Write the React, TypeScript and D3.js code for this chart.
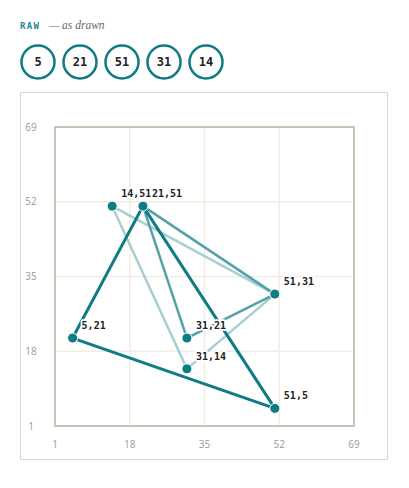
import React from "react";
import * as d3 from "d3";

// raw sequence shown as chips
const rawValues = [5, 21, 51, 31, 14];

// triangles, drawn back to front
const lightTri: [number, number][] = [[14, 51], [31, 14], [51, 31]];
const midTri: [number, number][] = [[21, 51], [31, 21], [51, 31]];
const darkTri: [number, number][] = [[5, 21], [21, 51], [51, 5]];

const points: [number, number][] = [
  [5, 21], [14, 51], [21, 51], [31, 21], [31, 14], [51, 31], [51, 5],
];

const ticks = [1, 18, 35, 52, 69];

const W = 409;
const H = 488;
const panel = { x: 20, y: 92, w: 368, h: 368 };
const plot = { left: 55, top: 127, right: 354, bottom: 426 };

const TEAL = "#0f7b84";
const MONO = "'DejaVu Sans Mono', monospace";

export default function App() {
  const x = d3.scaleLinear().domain([1, 69]).range([plot.left, plot.right]);
  const y = d3.scaleLinear().domain([1, 69]).range([plot.bottom, plot.top]);

  const line = d3
    .line<[number, number]>()
    .x((d) => x(d[0]))
    .y((d) => y(d[1]))
    .curve(d3.curveLinearClosed);

  const tris = [
    { pts: lightTri, color: "#a7cfd3", width: 2.5 },
    { pts: midTri, color: "#52a2a8", width: 2.5 },
    { pts: darkTri, color: TEAL, width: 3 },
  ];

  return (
    <svg
      width={W}
      height={H}
      style={{ position: "absolute", left: 0, top: 0, background: "#fff" }}
    >
      {/* header */}
      <text
        x={20}
        y={29}
        fontFamily={MONO}
        fontWeight="bold"
        fontSize={9}
        letterSpacing={1.3}
        fill="#1b8790"
      >
        RAW
      </text>
      <text
        x={49}
        y={29}
        fontFamily="'Liberation Serif', serif"
        fontStyle="italic"
        fontSize={11.5}
        fill="#666"
      >
        — as drawn
      </text>

      {rawValues.map((v, i) => (
        <g key={i} transform={`translate(${38 + i * 42},62)`}>
          <circle r={16.5} fill="#fff" stroke={TEAL} strokeWidth={2.5} />
          <text
            textAnchor="middle"
            dy="0.36em"
            fontFamily={MONO}
            fontWeight="bold"
            fontSize={12}
            fill="#222"
          >
            {v}
          </text>
        </g>
      ))}

      {/* panel */}
      <rect
        x={panel.x + 0.5}
        y={panel.y + 0.5}
        width={panel.w - 1}
        height={panel.h - 1}
        fill="#fff"
        stroke="#dcd8c6"
        strokeWidth={1}
      />

      {/* grid */}
      {ticks.slice(1, -1).map((t) => (
        <g key={t}>
          <line x1={x(t)} x2={x(t)} y1={plot.top} y2={plot.bottom} stroke="#f0ede2" strokeWidth={1.5} />
          <line x1={plot.left} x2={plot.right} y1={y(t)} y2={y(t)} stroke="#f0ede2" strokeWidth={1.5} />
        </g>
      ))}

      <rect
        x={plot.left}
        y={plot.top}
        width={plot.right - plot.left}
        height={plot.bottom - plot.top}
        fill="none"
        stroke="#c9c5b6"
        strokeWidth={2}
      />

      {/* tick labels */}
      {ticks.map((t) => (
        <text
          key={"y" + t}
          x={31}
          y={y(t)}
          dy="0.35em"
          textAnchor="middle"
          fontFamily="'Open Sans', sans-serif"
          fontSize={10}
          fill="#9a9a9a"
        >
          {t}
        </text>
      ))}
      {ticks.map((t) => (
        <text
          key={"x" + t}
          x={x(t)}
          y={448}
          textAnchor="middle"
          fontFamily="'Open Sans', sans-serif"
          fontSize={10}
          fill="#9a9a9a"
        >
          {t}
        </text>
      ))}

      {/* triangles */}
      {tris.map((t, i) => (
        <path
          key={i}
          d={line(t.pts) || ""}
          fill="none"
          stroke={t.color}
          strokeWidth={t.width}
          strokeLinejoin="round"
          strokeLinecap="round"
        />
      ))}

      {/* points */}
      {points.map((p, i) => (
        <circle
          key={i}
          cx={x(p[0])}
          cy={y(p[1])}
          r={5}
          fill={TEAL}
          stroke="#fff"
          strokeWidth={1}
        />
      ))}

      {/* point labels */}
      {points.map((p, i) => (
        <text
          key={i}
          x={x(p[0]) + 9}
          y={y(p[1]) - 9}
          fontFamily={MONO}
          fontWeight="bold"
          fontSize={10}
          fill="#222"
          stroke="#fff"
          strokeWidth={3.5}
          strokeLinejoin="round"
          paintOrder="stroke"
        >
          {p[0]},{p[1]}
        </text>
      ))}
    </svg>
  );
}
